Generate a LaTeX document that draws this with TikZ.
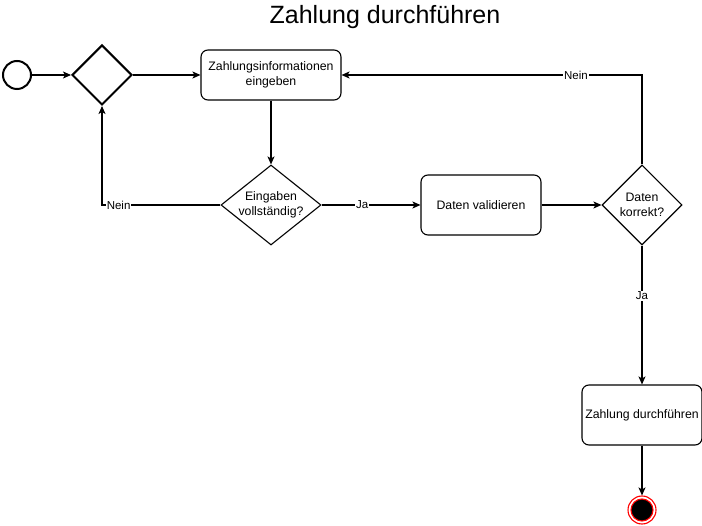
\documentclass[tikz,border=0pt]{standalone}
\usepackage{fontspec}
\setmainfont{Liberation Sans}
\usetikzlibrary{shapes.geometric,arrows.meta}

\begin{document}
\begin{tikzpicture}[x=1pt,y=-1pt,line width=1.1pt,font=\fontsize{12.3}{14.5}\selectfont,
  act/.style={draw,rounded corners=7pt,align=center,inner sep=0pt},
  dec/.style={draw,diamond,inner sep=0pt},
  arr/.style={-{Stealth[length=8pt,width=7pt,inset=2pt]}},
  lbl/.style={fill=white,inner sep=1pt,font=\fontsize{11.5}{13}\selectfont}]
\useasboundingbox (0,0) rectangle (702,526);

\node[font=\fontsize{25}{28}\selectfont] (title) at (385,17) {Zahlung durchführen};

\node[circle,draw,line width=2pt,minimum size=28pt,inner sep=0pt] (start) at (17,75) {};
\node[dec,line width=2pt,minimum width=60pt,minimum height=60pt] (merge) at (102,75) {};
\node[act,minimum width=140pt,minimum height=50pt] (info) at (271,75) {Zahlungsinformationen\\eingeben};
\node[dec,minimum width=100pt,minimum height=80pt,
  label={[align=center]center:Eingaben\\vollständig?}] (full) at (271,205) {};
\node[act,minimum width=120pt,minimum height=60pt] (valid) at (481,205) {Daten validieren};
\node[dec,minimum width=80pt,minimum height=80pt,
  label={[align=center]center:Daten\\korrekt?}] (ok) at (642,205) {};
\node[act,minimum width=120pt,minimum height=60pt] (pay) at (642,415) {Zahlung durchführen};
\node[circle,draw=red,minimum size=28pt,inner sep=0pt,
  path picture={\fill[draw=red] (path picture bounding box.center) circle (11pt);}] (stop) at (642,510) {};

\draw[arr] (start) -- (merge);
\draw[arr] (merge) -- (info);
\draw[arr] (info) -- (full);
\draw[arr] (full.west) -| node[lbl,pos=0.43] {Nein} (merge.south);
\draw[arr] (full) -- node[lbl,pos=0.41] {Ja} (valid);
\draw[arr] (valid) -- (ok);
\draw[arr] (ok.north) |- node[lbl,pos=0.61] {Nein} (info.east);
\draw[arr] (ok) -- node[lbl,pos=0.36] {Ja} (pay);
\draw[arr] (pay) -- (stop);

\end{tikzpicture}
\end{document}
